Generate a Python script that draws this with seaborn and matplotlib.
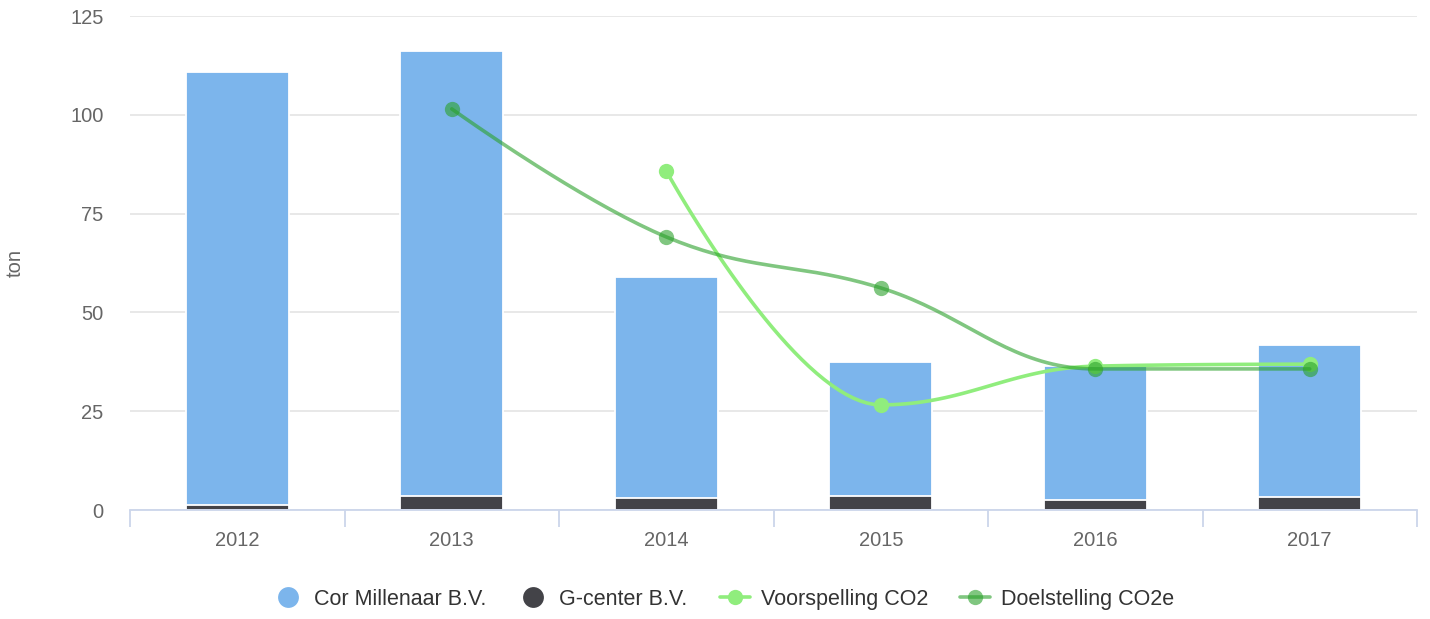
import numpy as np
import matplotlib
matplotlib.use("Agg")
import matplotlib.pyplot as plt
from matplotlib.lines import Line2D
import seaborn as sns

# data (ton)
years = ["2012", "2013", "2014", "2015", "2016", "2017"]
cor_millenaar = [109.6, 112.6, 56.0, 33.9, 34.0, 38.3]
g_center = [1.2, 3.5, 3.0, 3.5, 2.5, 3.4]
voorspelling_years = ["2014", "2015", "2016", "2017"]
voorspelling = [85.8, 26.6, 36.4, 36.9]
doelstelling_years = ["2013", "2014", "2015", "2016", "2017"]
doelstelling = [101.5, 69.1, 56.2, 35.7, 35.7]

c_cor = "#7cb5ec"
c_g = "#434348"
c_voor = "#90ed7d"
c_doel = (0.17, 0.63, 0.17, 0.6)


def spline(xs, ys, smoothing=1.5, n=40):
    # highcharts-like spline: bezier control points per point
    xs = list(map(float, xs))
    ys = list(map(float, ys))
    m = len(xs)
    lc = [(xs[i], ys[i]) for i in range(m)]
    rc = [(xs[i], ys[i]) for i in range(m)]
    d = smoothing + 1
    for i in range(1, m - 1):
        px, py = xs[i], ys[i]
        lx, ly = xs[i - 1], ys[i - 1]
        nx, ny = xs[i + 1], ys[i + 1]
        lcx = (smoothing * px + lx) / d
        lcy = (smoothing * py + ly) / d
        rcx = (smoothing * px + nx) / d
        rcy = (smoothing * py + ny) / d
        corr = 0
        if rcx != lcx:
            corr = (rcy - lcy) * (rcx - px) / (rcx - lcx) + py - rcy
        lcy += corr
        rcy += corr
        if lcy > ly and lcy > py:
            lcy = max(ly, py)
            rcy = 2 * py - lcy
        elif lcy < ly and lcy < py:
            lcy = min(ly, py)
            rcy = 2 * py - lcy
        if rcy > ny and rcy > py:
            rcy = max(ny, py)
            lcy = 2 * py - rcy
        elif rcy < ny and rcy < py:
            rcy = min(ny, py)
            lcy = 2 * py - rcy
        lc[i] = (lcx, lcy)
        rc[i] = (rcx, rcy)
    t = np.linspace(0, 1, n)[:, None]
    pts = []
    for i in range(1, m):
        p0 = np.array([xs[i - 1], ys[i - 1]])
        p1 = np.array(rc[i - 1])
        p2 = np.array(lc[i])
        p3 = np.array([xs[i], ys[i]])
        seg = ((1 - t) ** 3) * p0 + 3 * ((1 - t) ** 2) * t * p1 + 3 * (1 - t) * t ** 2 * p2 + t ** 3 * p3
        pts.append(seg)
    pts = np.vstack(pts)
    return pts[:, 0], pts[:, 1]


sns.set_style("white")
plt.rcParams["font.family"] = ["Liberation Sans", "DejaVu Sans"]

fig = plt.figure(figsize=(14.3, 6.19), dpi=100)
ax = fig.add_axes([130 / 1430, 109 / 619, 1287 / 1430, 494 / 619])

totals = [c + g for c, g in zip(cor_millenaar, g_center)]
sns.barplot(x=years, y=totals, color=c_cor, saturation=1, width=0.48,
            edgecolor="white", linewidth=1.3, ax=ax, zorder=2)
sns.barplot(x=years, y=g_center, color=c_g, saturation=1, width=0.48,
            edgecolor="white", linewidth=1.3, ax=ax, zorder=2)

pos = {y: i for i, y in enumerate(years)}

vx, vy = spline([pos[y] for y in voorspelling_years], voorspelling)
ax.plot(vx, vy, color=c_voor, lw=2.6, zorder=4, solid_capstyle="round")
ax.plot([pos[y] for y in voorspelling_years], voorspelling, "o", color=c_voor,
        ms=11, zorder=5, markeredgewidth=0)

dx, dy = spline([pos[y] for y in doelstelling_years], doelstelling)
ax.plot(dx, dy, color=c_doel, lw=2.6, zorder=6, solid_capstyle="round")
ax.plot([pos[y] for y in doelstelling_years], doelstelling, "o", color=c_doel,
        ms=11, zorder=7, markeredgewidth=0)

ax.set_xlim(-0.5, 5.5)
ax.set_ylim(0, 125)
ax.set_yticks([0, 25, 50, 75, 100, 125])
ax.set_xticks(range(len(years)))
ax.set_xticklabels(years)
ax.set_xticks(np.arange(-0.5, 6, 1), minor=True)
ax.tick_params(axis="x", which="major", length=0, pad=15, labelsize=14.5, labelcolor="#666666")
ax.tick_params(axis="x", which="minor", length=12.5, width=1.3, color="#ccd6eb", direction="out", bottom=True)
ax.tick_params(axis="y", length=0, pad=19, labelsize=14.5, labelcolor="#666666")
ax.set_xlabel("")
ax.set_ylabel("")
ax.yaxis.grid(True, color="#e6e6e6", lw=1.3)
ax.xaxis.grid(False)
ax.set_axisbelow(True)
for s in ["left", "top", "right"]:
    ax.spines[s].set_visible(False)
ax.spines["bottom"].set_color("#ccd6eb")
ax.spines["bottom"].set_linewidth(1.3)
ax.spines["bottom"].set_zorder(8)

fig.text(15 / 1430, 1 - 263 / 619, "ton", rotation=90, ha="center", va="center",
         fontsize=14.5, color="#666666")

handles = [
    Line2D([], [], linestyle="none", marker="o", ms=15, color=c_cor, markeredgewidth=0),
    Line2D([], [], linestyle="none", marker="o", ms=15, color=c_g, markeredgewidth=0),
    Line2D([], [], color=c_voor, lw=2.6, marker="o", ms=11, markeredgewidth=0),
    Line2D([], [], color=c_doel, lw=2.6, marker="o", ms=11, markeredgewidth=0),
]
labels = ["Cor Millenaar B.V.", "G-center B.V.", "Voorspelling CO2", "Doelstelling CO2e"]
fig.legend(handles, labels, loc="center", bbox_to_anchor=(0.506, 19.5 / 619), ncol=4,
           frameon=False, fontsize=15.5, labelcolor="#333333", handlelength=1.4,
           handletextpad=0.5, columnspacing=1.5)

fig.savefig("out.png", dpi=100)
